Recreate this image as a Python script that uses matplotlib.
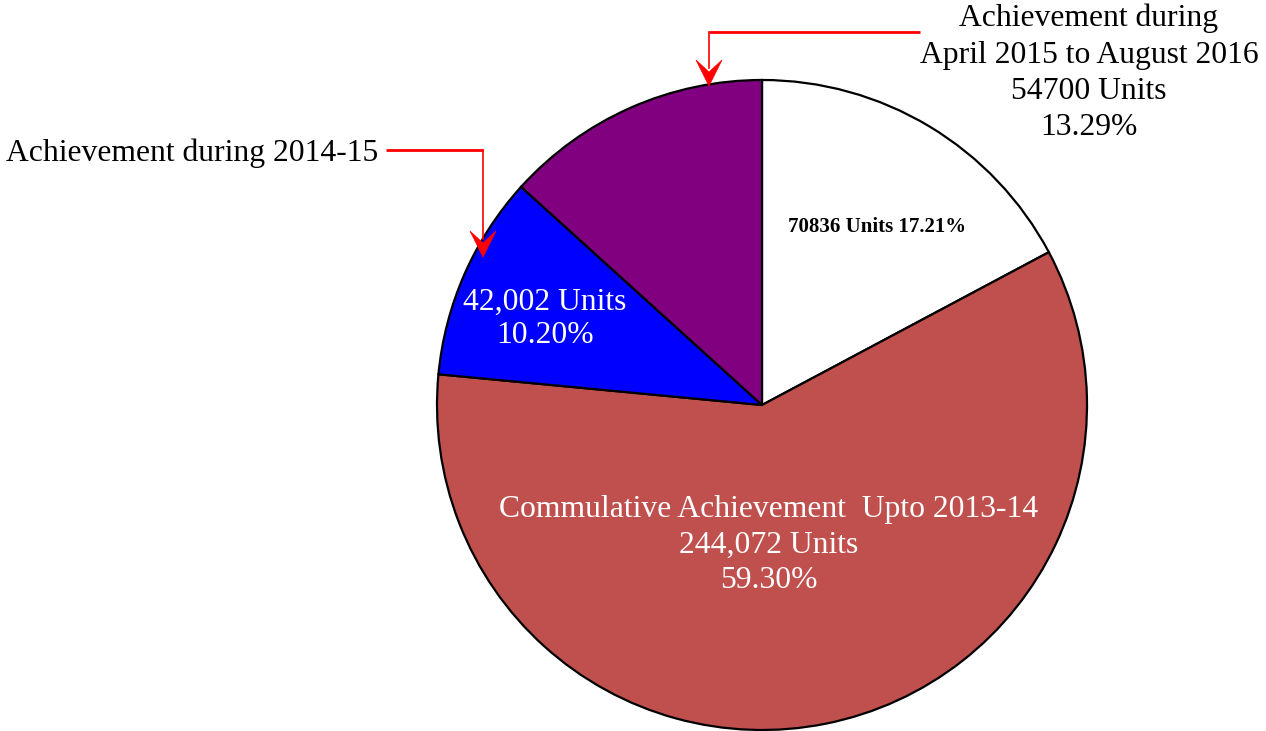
import matplotlib
matplotlib.use("Agg")
import matplotlib.pyplot as plt
from matplotlib.patches import Polygon

# slices, clockwise from 12 o'clock
segments = ["Apr 2015 - Aug 2016 (white)", "Upto 2013-14", "2014-15", "Apr 2015 - Aug 2016"]
units = [70836, 244072, 42002, 54700]
percent_labels = ["17.21%", "59.30%", "10.20%", "13.29%"]
colors = ["#FFFFFF", "#C0504D", "#0000FF", "#800080"]

W, H = 1266, 731
fig = plt.figure(figsize=(W / 100, H / 100), dpi=100)
ax = fig.add_axes([0, 0, 1, 1])
ax.axis("off")

# pie in pixel space (y flipped, so counterclock=True gives clockwise on screen)
cx, cy, r = 762, 405, 325
wedges, _ = ax.pie(units, colors=colors, startangle=-90, counterclock=True,
                   center=(cx, cy), radius=r,
                   wedgeprops=dict(edgecolor="black", linewidth=1.6))
ax.set_xlim(0, W)
ax.set_ylim(H, 0)
ax.set_aspect("equal")

serif = "Liberation Serif"
big = 22.8

ax.text(877, 227, f"{units[0]} Units {percent_labels[0]}", ha="center", va="center",
        fontsize=15, fontweight="bold", family=serif, color="black")
ax.text(545, 319, f"{units[2]:,} Units\n{percent_labels[2]}", ha="center", va="center",
        fontsize=big, family=serif, color="white", linespacing=1.2)
ax.text(769, 545, f"Commulative Achievement  Upto 2013-14\n{units[1]:,} Units\n{percent_labels[1]}",
        ha="center", va="center", fontsize=big, family=serif, color="white", linespacing=1.3)
ax.text(1089, 73, f"Achievement during\nApril 2015 to August 2016\n{units[3]} Units\n{percent_labels[3]}",
        ha="center", va="center", fontsize=big, family=serif, color="black", linespacing=1.34)
ax.text(6, 153, "Achievement during 2014-15", ha="left", va="center",
        fontsize=big, family=serif, color="black")


def callout(x0, y0, xc, ytip):
    ax.plot([x0, xc], [y0, y0], color="red", lw=2, solid_capstyle="butt")
    ax.plot([xc, xc], [y0, ytip - 18], color="red", lw=1.2)
    head = [(xc, ytip), (xc - 13, ytip - 26), (xc, ytip - 14), (xc + 13, ytip - 26)]
    ax.add_patch(Polygon(head, closed=True, facecolor="red", edgecolor="red", lw=0.5))


callout(386, 150, 483, 257)
callout(920, 32, 709, 86)

fig.savefig("out.png", dpi=100)
